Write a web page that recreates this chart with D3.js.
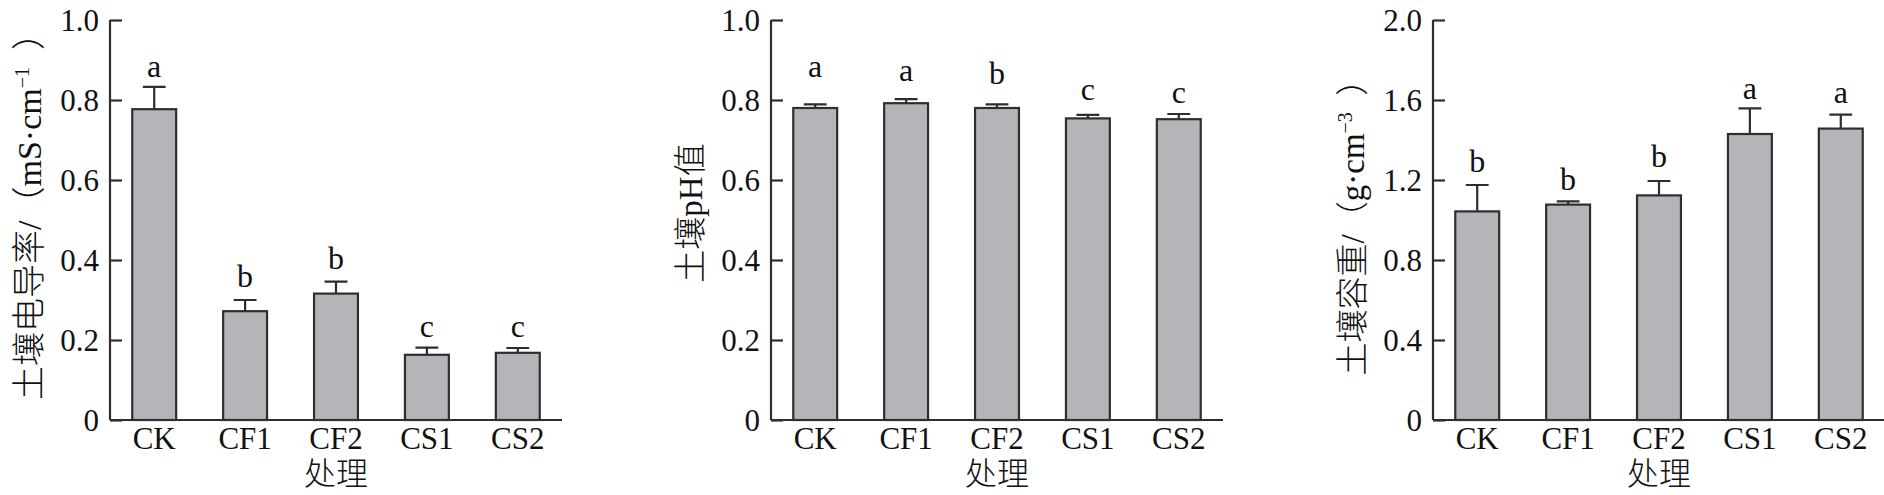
<!DOCTYPE html>
<html>
<head>
<meta charset="utf-8">
<script src="https://cdn.jsdelivr.net/npm/d3@7"></script>
<style>
html,body{margin:0;padding:0;background:#fff;}
svg{display:block;}
text{font-family:"Liberation Serif","Noto Sans CJK SC",serif;fill:#111;}
.cjk{font-weight:300;}
</style>
</head>
<body>
<svg id="chart" width="1884" height="495"></svg>
<script>
// ---- data ----
const categories = ["CK", "CF1", "CF2", "CS1", "CS2"];

const ecMean = [0.777, 0.272, 0.316, 0.163, 0.168];
const ecErr  = [0.056, 0.028, 0.030, 0.018, 0.012];
const ecLetters = ["a", "b", "b", "c", "c"];
const ecTicks = [0, 0.2, 0.4, 0.6, 0.8, 1.0];

const phMean = [0.780, 0.792, 0.780, 0.754, 0.752];
const phErr  = [0.009, 0.010, 0.009, 0.009, 0.013];
const phLetters = ["a", "a", "b", "c", "c"];
const phTicks = [0, 0.2, 0.4, 0.6, 0.8, 1.0];

const bdMean = [1.043, 1.077, 1.123, 1.430, 1.457];
const bdErr  = [0.132, 0.016, 0.072, 0.128, 0.070];
const bdLetters = ["b", "b", "b", "a", "a"];
const bdTicks = [0, 0.4, 0.8, 1.2, 1.6, 2.0];

const xTitle = "处理";

// ---- layout ----
const panels = [
  {x0: 110, max: 1.0, mean: ecMean, err: ecErr, letters: ecLetters, ticks: ecTicks,
   title: [{t: "土壤电导率/（"}, {t: "mS·cm"}, {t: "−1", sup: true}, {t: "\u2002）"}],
   titleY: 208, fs: 34, gaps: [9.4, 12.7, 12.4, 11, 11.3]},
  {x0: 771, max: 1.0, mean: phMean, err: phErr, letters: phLetters, ticks: phTicks,
   title: [{t: "土壤pH值"}],
   titleY: 213, fs: 33, gaps: [27.6, 18.6, 20, 14.7, 10.7]},
  {x0: 1433, max: 2.0, mean: bdMean, err: bdErr, letters: bdLetters, ticks: bdTicks,
   title: [{t: "土壤容重/（"}, {t: "g·cm"}, {t: "−3", sup: true}, {t: "\u2002）"}],
   titleY: 219, fs: 33, gaps: [13.3, 11.3, 14.3, 9.3, 11.7]}
];

const W = 452, yTop = 20, yBot = 420;
const stroke = "#2e2e2e";
const fill = "#b3b5b9";
const svg = d3.select("#chart");

panels.forEach(p => {
  const g = svg.append("g");
  const x = d3.scaleBand().domain(categories).range([p.x0, p.x0 + W])
    .paddingInner(0.517).paddingOuter(0.245);
  const y = d3.scaleLinear().domain([0, p.max]).range([yBot, yTop]);

  // y axis (inward ticks)
  const yAxis = d3.axisRight(y).tickValues(p.ticks).tickSize(12)
    .tickFormat(d => d === 0 ? "0" : d.toFixed(1));
  const ya = g.append("g").attr("transform", `translate(${p.x0},0)`).call(yAxis);
  ya.select(".domain").attr("stroke", stroke).attr("stroke-width", 2.2)
    .attr("d", `M0,${yTop}V${yBot}`);
  ya.selectAll(".tick line").attr("stroke", stroke).attr("stroke-width", 2.2);
  ya.selectAll(".tick text").attr("x", -11).attr("dy", "0.34em")
    .attr("text-anchor", "end").style("font-size", "31px").attr("fill", "#111");

  // x axis (no ticks)
  const xAxis = d3.axisBottom(x).tickSize(0).tickPadding(0);
  const xa = g.append("g").attr("transform", `translate(0,${yBot})`).call(xAxis);
  xa.select(".domain").attr("stroke", stroke).attr("stroke-width", 2.2)
    .attr("d", `M${p.x0},0H${p.x0 + W}`);
  xa.selectAll(".tick text").attr("y", 29).attr("dy", 0)
    .style("font-size", "31px").attr("fill", "#111");

  const rows = categories.map((c, i) => ({c, m: p.mean[i], e: p.err[i], l: p.letters[i], gap: p.gaps[i]}));

  // bars
  g.selectAll("rect.bar").data(rows).join("rect")
    .attr("x", d => x(d.c)).attr("width", x.bandwidth())
    .attr("y", d => y(d.m)).attr("height", d => yBot - y(d.m))
    .attr("fill", fill).attr("stroke", stroke).attr("stroke-width", 2.2);

  // error bars
  const cap = x.bandwidth() * 0.26;
  g.selectAll("path.err").data(rows).join("path")
    .attr("d", d => {
      const cx = x(d.c) + x.bandwidth() / 2;
      return `M${cx},${y(d.m)}V${y(d.m + d.e)}M${cx - cap},${y(d.m + d.e)}H${cx + cap}`;
    })
    .attr("fill", "none").attr("stroke", stroke).attr("stroke-width", 2.2);

  // significance letters
  g.selectAll("text.sig").data(rows).join("text")
    .attr("x", d => x(d.c) + x.bandwidth() / 2)
    .attr("y", d => y(d.m + d.e) - d.gap)
    .attr("text-anchor", "middle").style("font-size", "32px")
    .text(d => d.l);

  // x title
  g.append("text").attr("class", "cjk").attr("x", p.x0 + W / 2).attr("y", 485)
    .attr("text-anchor", "middle").style("font-size", "32px").text(xTitle);

  // y title
  const t = g.append("text").attr("class", "cjk")
    .attr("transform", `translate(${p.x0 - 81},${p.titleY}) rotate(-90)`)
    .attr("text-anchor", "middle").attr("dy", "0.36em").style("font-size", p.fs + "px");
  let wasSup = false;
  p.title.forEach(s => {
    const ts = t.append("tspan").text(s.t);
    if (s.sup) { ts.attr("dy", -12).style("font-size", "20px"); wasSup = true; }
    else if (wasSup) { ts.attr("dy", 12); wasSup = false; }
  });
});
</script>
</body>
</html>
